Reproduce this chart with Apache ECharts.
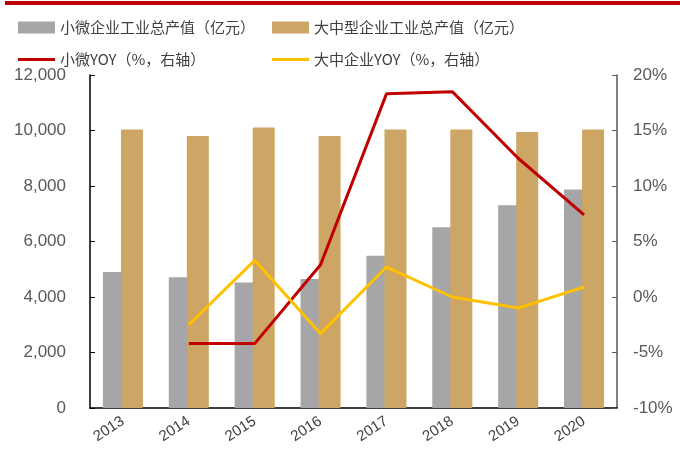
<!DOCTYPE html>
<html>
<head>
<meta charset="utf-8">
<script src="https://cdn.jsdelivr.net/npm/echarts@6/dist/echarts.min.js"></script>
<style>
  html, body { margin: 0; padding: 0; background: #fff; }
  #main { width: 680px; height: 450px; }
</style>
</head>
<body>
<div id="main"></div>
<script>
    // 数据
    var years = ['2013', '2014', '2015', '2016', '2017', '2018', '2019', '2020'];
    var smallOutput = [4900, 4710, 4520, 4650, 5490, 6510, 7310, 7870];      // 小微企业工业总产值（亿元）
    var largeOutput = [10040, 9800, 10110, 9800, 10040, 10040, 9950, 10040]; // 大中型企业工业总产值（亿元）
    var smallYoy = [null, -4.2, -4.2, 2.9, 18.3, 18.5, 12.5, 7.4];           // 小微YOY
    var largeYoy = [null, -2.5, 3.3, -3.3, 2.7, 0.0, -1.0, 0.9];             // 大中企业YOY
    var leftTicks = [0, 12000, 2000];   // min, max, interval
    var rightTicks = [-10, 20, 5];

    var chart = echarts.init(document.getElementById('main'));

    var font = '"Liberation Sans", Arial, sans-serif';
    var cjk = '"Noto Sans CJK SC", "Liberation Sans", sans-serif';
    var legendText = { color: '#404040', fontSize: 15, fontFamily: cjk };

    chart.setOption({
        animation: false,
        graphic: [{
            type: 'rect', left: 5, top: 1,
            shape: { width: 675, height: 4 },
            style: { fill: '#C00000' }
        }],
        legend: [
            { left: 13, top: 15, itemWidth: 37, itemHeight: 12, icon: 'rect', textStyle: legendText,
              data: ['小微企业工业总产值（亿元）'] },
            { left: 267, top: 15, itemWidth: 37, itemHeight: 12, icon: 'rect', textStyle: legendText,
              data: ['大中型企业工业总产值（亿元）'] },
            { left: 13, top: 47, itemWidth: 37, itemHeight: 3, icon: 'rect', textStyle: legendText,
              data: ['小微YOY（%，右轴）'] },
            { left: 267, top: 47, itemWidth: 37, itemHeight: 3, icon: 'rect', textStyle: legendText,
              data: ['大中企业YOY（%，右轴）'] }
        ],
        grid: { left: 90, right: 63, top: 75, bottom: 42 },
        xAxis: {
            type: 'category',
            data: years,
            axisLine: { lineStyle: { color: '#000', width: 1.5 } },
            axisTick: { inside: true, length: 5, lineStyle: { color: '#000' } },
            axisLabel: { rotate: 33, margin: 12, color: '#404040', fontSize: 15, fontFamily: font }
        },
        yAxis: [
            {
                type: 'value',
                min: leftTicks[0], max: leftTicks[1], interval: leftTicks[2],
                splitLine: { show: false },
                axisLine: { show: true, lineStyle: { color: '#000', width: 1.5 } },
                axisTick: { show: true, inside: true, length: 5, lineStyle: { color: '#000' } },
                axisLabel: {
                    margin: 24, color: '#595959', fontSize: 17, fontFamily: font,
                    formatter: function (v) { return v.toLocaleString('en-US'); }
                }
            },
            {
                type: 'value',
                min: rightTicks[0], max: rightTicks[1], interval: rightTicks[2],
                splitLine: { show: false },
                axisLine: { show: true, lineStyle: { color: '#595959', width: 1.5 } },
                axisTick: { show: true, inside: true, length: 5, lineStyle: { color: '#595959' } },
                axisLabel: { margin: 16, color: '#595959', fontSize: 17, fontFamily: font, formatter: '{value}%' }
            }
        ],
        series: [
            {
                name: '小微企业工业总产值（亿元）', type: 'bar',
                barWidth: 22, barGap: '-18%',
                itemStyle: { color: '#A6A5A8' },
                data: smallOutput
            },
            {
                name: '大中型企业工业总产值（亿元）', type: 'bar',
                barWidth: 22,
                itemStyle: { color: '#CDA665', borderRadius: 1 },
                data: largeOutput
            },
            {
                name: '小微YOY（%，右轴）', type: 'line', yAxisIndex: 1,
                showSymbol: false, symbol: 'none',
                lineStyle: { color: '#C00000', width: 3 },
                itemStyle: { color: '#C00000' },
                data: smallYoy
            },
            {
                name: '大中企业YOY（%，右轴）', type: 'line', yAxisIndex: 1,
                showSymbol: false, symbol: 'none',
                lineStyle: { color: '#FFC000', width: 3 },
                itemStyle: { color: '#FFC000' },
                data: largeYoy
            }
        ]
    });
</script>
</body>
</html>
